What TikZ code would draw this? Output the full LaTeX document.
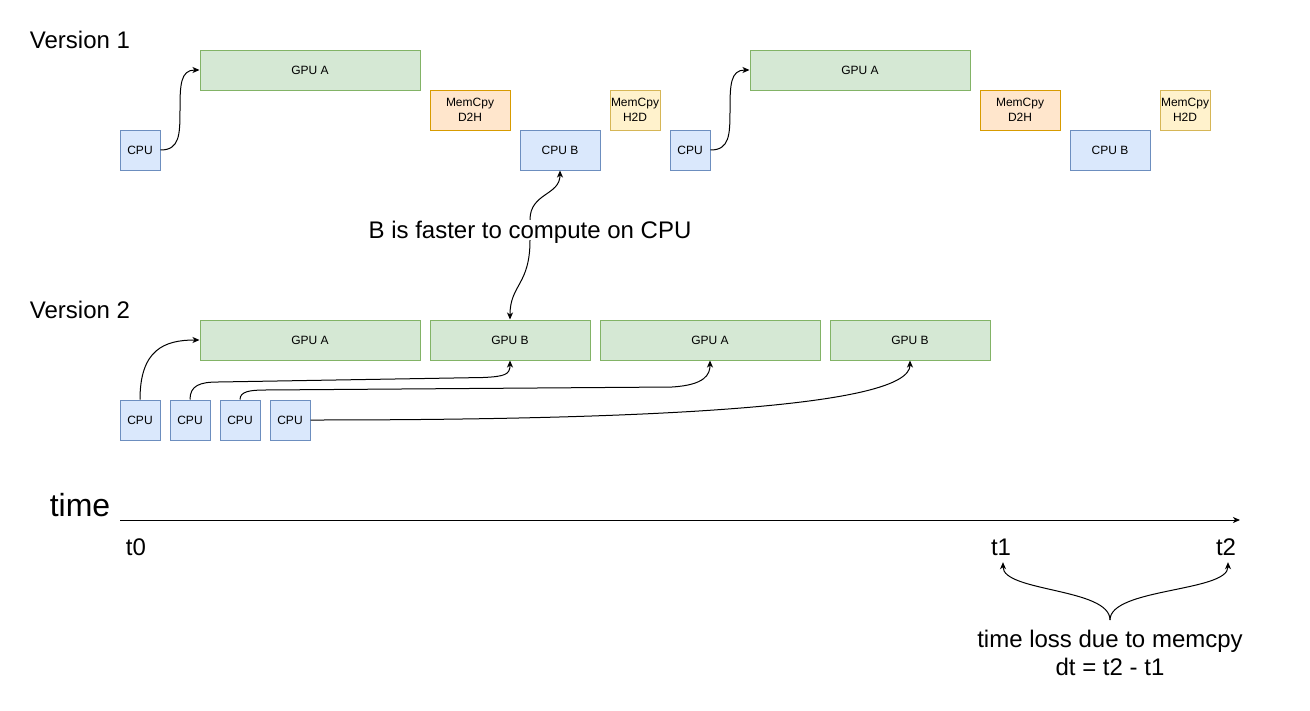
\documentclass[tikz,border=0pt]{standalone}
\usepackage{fontspec}
\setmainfont{Liberation Sans}
\usetikzlibrary{arrows.meta}
\definecolor{gfill}{HTML}{D5E8D4}
\definecolor{gline}{HTML}{82B366}
\definecolor{bfill}{HTML}{DAE8FC}
\definecolor{bline}{HTML}{6C8EBF}
\definecolor{ofill}{HTML}{FFE6CC}
\definecolor{oline}{HTML}{D79B00}
\definecolor{yfill}{HTML}{FFF2CC}
\definecolor{yline}{HTML}{D6B656}
\begin{document}
\begin{tikzpicture}[x=1pt,y=-1pt,
  boxbase/.style={line width=1pt, inner sep=0pt, minimum height=40pt, align=center,
    font=\fontsize{12}{14.4}\selectfont},
  gbox/.style={boxbase, draw=gline, fill=gfill, minimum width=#1},
  bbox/.style={boxbase, draw=bline, fill=bfill, minimum width=#1},
  obox/.style={boxbase, draw=oline, fill=ofill, minimum width=80pt},
  ybox/.style={boxbase, draw=yline, fill=yfill, minimum width=50pt},
  bigtext/.style={inner sep=0pt, font=\fontsize{24}{28}\selectfont},
  hugetext/.style={inner sep=0pt, font=\fontsize{32}{36}\selectfont},
  arr/.style={line width=1pt, -{Stealth[length=7pt,width=6pt,inset=2pt]}}]
\useasboundingbox (0,0) rectangle (1310,710);
\fill[white] (0,0) rectangle (1310,710);

% Version 1
\node[bigtext] (v1lbl) at (80,40) {Version 1};
\node[gbox=220pt] (v1ga) at (310,70) {GPU A};
\node[obox] (v1d2h) at (470,110) {MemCpy\\D2H};
\node[bbox=40pt] (v1cpu) at (140,150) {CPU};
\node[bbox=80pt] (v1cpub) at (560,150) {CPU B};
\node[ybox] (v1h2d) at (635,110) {MemCpy\\H2D};
\node[bbox=40pt] (v1cpu2) at (690,150) {CPU};
\node[gbox=220pt] (v1ga2) at (860,70) {GPU A};
\node[obox] (v1d2h2) at (1020,110) {MemCpy\\D2H};
\node[bbox=80pt] (v1cpub2) at (1110,150) {CPU B};
\node[ybox] (v1h2d2) at (1185,110) {MemCpy\\H2D};

\draw[arr] (v1cpu.east) .. controls +(19,0) and +(0,25) .. (180,110)
  .. controls +(0,-25) and +(-19,0) .. (v1ga.west);
\draw[arr] (v1cpu2.east) .. controls +(19,0) and +(0,25) .. (730,110)
  .. controls +(0,-25) and +(-19,0) .. (v1ga2.west);

% middle note
\node[bigtext, text height=18pt, text depth=2pt, anchor=base] (note) at (530,238) {B is faster to compute on CPU};

% Version 2
\node[bigtext] (v2lbl) at (80,310) {Version 2};
\node[gbox=220pt] (v2ga) at (310,340) {GPU A};
\node[gbox=160pt] (v2gb) at (510,340) {GPU B};
\node[gbox=220pt] (v2ga2) at (710,340) {GPU A};
\node[gbox=160pt] (v2gb2) at (910,340) {GPU B};
\node[bbox=40pt] (c1) at (140,420) {CPU};
\node[bbox=40pt] (c2) at (190,420) {CPU};
\node[bbox=40pt] (c3) at (240,420) {CPU};
\node[bbox=40pt] (c4) at (290,420) {CPU};

\draw[arr] (note.north) .. controls +(0,-27) and +(0,25) .. (v1cpub.south);
\draw[arr] (note.south) .. controls +(0,45) and +(0,-35) .. (v2gb.north);

\draw[arr] (c1.north) .. controls +(0,-50) and +(-35,0) .. (v2ga.west);
\draw[arr] (c2.north) .. controls +(0,-14) and +(-18,0) .. (218,382) -- (483,377.5)
  .. controls +(22,-1) and +(0,14) .. (v2gb.south);
\draw[arr] (c3.north) .. controls +(0,-8) and +(-15,0) .. (265,390) -- (672,387)
  .. controls +(33,-2) and +(0,14) .. (v2ga2.south);
\draw[arr] (c4.east) .. controls (650,420) and (910,407) .. (v2gb2.south);

% time axis
\node[hugetext] (timelbl) at (80,505) {time};
\coordinate (ax0) at (120,520);
\coordinate (ax1) at (1240,520);
\draw[arr] (ax0) -- (ax1);
\node[bigtext, text height=18pt, text depth=7pt, anchor=base] (t0) at (136,555) {t0};
\node[bigtext, text height=18pt, text depth=7pt, anchor=base] (t1) at (1001,555) {t1};
\node[bigtext, text height=18pt, text depth=7pt, anchor=base] (t2) at (1226,555) {t2};

\coordinate (br) at (1110,620);
\draw[arr] (br) .. controls (1110,588) and (1003,592) .. ([xshift=2pt]t1.south);
\draw[arr] (br) .. controls (1110,588) and (1228,592) .. ([xshift=2pt]t2.south);

\node[bigtext, anchor=base] (loss1) at (1110,647) {time loss due to memcpy};
\node[bigtext, anchor=base] (loss2) at (1110,675) {dt = t2 - t1};
\end{tikzpicture}
\end{document}
